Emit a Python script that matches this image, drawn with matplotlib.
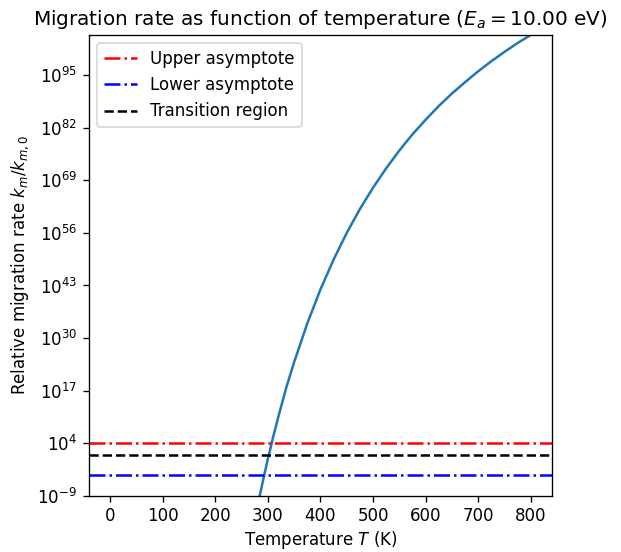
import matplotlib
matplotlib.use("Agg")
import matplotlib.pyplot as plt
import numpy as np

# Temperature (K) and log10 of relative migration rate
temperature = [280, 285, 290, 295, 300, 310, 320, 335, 350, 375, 400, 425, 450,
               475, 500, 525, 550, 575, 600, 625, 650, 675, 700, 725, 750, 775, 800]
log10_rate = [-12.0, -8.84, -5.79, -2.85, 0.0, 5.42, 10.50, 17.7, 24.0, 33.6, 42.0,
              49.4, 56.0, 61.9, 67.2, 72.0, 76.4, 80.4, 84.0, 87.4, 90.5, 93.3,
              96.0, 98.5, 100.8, 103.0, 105.0]

upper_asymptote = 1e4
transition_level = 1e1
lower_asymptote = 1e-4

y_min = 1e-9
y_ticks_exp = [-9, 4, 17, 30, 43, 56, 69, 82, 95]

rate = 10.0 ** np.array(log10_rate)

fig, ax = plt.subplots(figsize=(621 / 120, 552 / 120), dpi=120)
ax.plot(temperature, rate, color="#1f77b4")
ax.axhline(upper_asymptote, color="red", ls="-.", label="Upper asymptote")
ax.axhline(lower_asymptote, color="blue", ls="-.", label="Lower asymptote")
ax.axhline(transition_level, color="black", ls="--", label="Transition region")
ax.set_yscale("log")
ax.set_xlim(-40, 840)
ax.set_ylim(y_min, 10.0 ** log10_rate[-1])
ax.set_yticks([10.0 ** e for e in y_ticks_exp])
ax.minorticks_off()
ax.set_xlabel("Temperature $T$ (K)", labelpad=2)
ax.set_ylabel("Relative migration rate $k_m/k_{m,0}$")
ax.set_title("Migration rate as function of temperature ($E_a = 10.00$ eV)")
ax.legend(loc="upper left")
fig.subplots_adjust(left=0.143, right=0.889, top=0.937, bottom=0.102)
fig.savefig("out.png", dpi=120)
